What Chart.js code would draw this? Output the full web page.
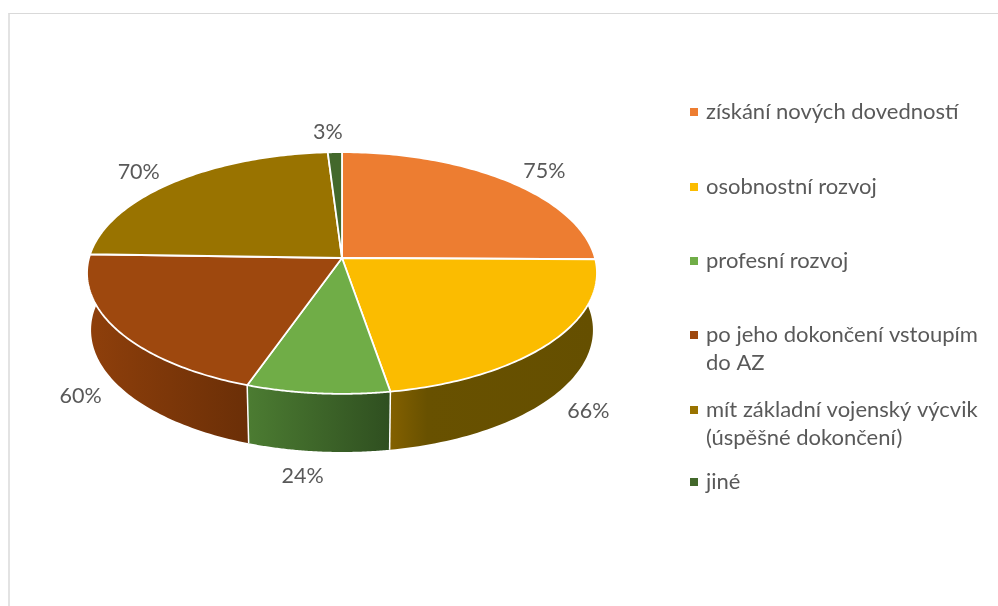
<!DOCTYPE html>
<html>
<head>
<meta charset="utf-8">
<script src="https://cdn.jsdelivr.net/npm/chart.js@4"></script>
<style>
html,body{margin:0;padding:0;background:#fff;overflow:hidden}
#frame{position:absolute;left:8px;top:13px;width:990px;height:593px;box-sizing:border-box;border-top:1px solid #d9d9d9;border-left:2px solid #e3e3e3}
#c{position:absolute;left:0;top:0}
</style>
</head>
<body>
<div id="frame"></div>
<canvas id="c" width="998" height="606"></canvas>
<script>
// Data
const categories = ['získání nových dovedností','osobnostní rozvoj','profesní rozvoj','po jeho dokončení vstoupím do AZ','mít základní vojenský výcvik (úspěšné dokončení)','jiné'];
const values = [75,66,24,60,70,3];
// Styles
const legendLines = [['získání nových dovedností'],['osobnostní rozvoj'],['profesní rozvoj'],['po jeho dokončení vstoupím','do AZ'],['mít základní vojenský výcvik','(úspěšné dokončení)'],['jiné']];
const colors = ['#ED7D31','#FBBC00','#70AD47','#9E480E','#997300','#43682B'];
const wallStops = [null,
  [[0,'#836000'],[0.18,'#685100'],[1,'#654F00']],
  [[0,'#4C7C32'],[1,'#2F4F20']],
  [[0,'#8E3F0B'],[1,'#6B2F07']],
  null,null];
const labelOffsets = [[37,-10],[37,69],[-15,83],[-37,66],[-36,-10],[-7,-20]];
const legendY = [112,187,261,335,410,482];
const legendX = 690, legendTextX = 706, legendLineGap = 28;
const labelFont = '21.5px Lato', legendFont = '22px Lato', textColor = '#595959';

// Perspective view of the pie's disc
const P = 0.124, YRATIO = 119/253;
const DEPTH = 57, BOTTOM_SCALE = 249/253, BOTTOM_YRATIO = 120/249;
function topPt(a,el){
  const R=el.outerRadius, u=Math.cos(a), v=Math.sin(a), w=1/(1-P*v);
  return [el.x+R*u*w, el.y+R*YRATIO*v*w];
}
function botPt(a,el){
  const R=el.outerRadius*BOTTOM_SCALE, u=Math.cos(a), v=Math.sin(a), w=1/(1-P*v);
  return [el.x+R*u*w, el.y+DEPTH+R*BOTTOM_YRATIO*v*w];
}
const STEPS=90;
const pie3d = {
  id:'pie3d',
  beforeDatasetDraw(chart){
    const ctx=chart.ctx, arcs=chart.getDatasetMeta(0).data;
    ctx.save();
    // walls
    arcs.forEach((el,i)=>{
      if(!wallStops[i]) return;
      let a0=el.startAngle, a1=el.endAngle;
      const rawStart=a0, rawEnd=a1;
      if(a0<0.22) a0=-0.5;      // carry round to the silhouette (hidden under the top face)
      if(a1>Math.PI-0.12) a1=Math.PI+0.5;
      const pts=[];
      for(let s=0;s<=STEPS;s++) pts.push(topPt(a0+(a1-a0)*s/STEPS,el));
      for(let s=STEPS;s>=0;s--) pts.push(botPt(a0+(a1-a0)*s/STEPS,el));
      const xa=topPt(rawStart,el)[0], xb=topPt(rawEnd,el)[0];
      const g=ctx.createLinearGradient(Math.min(xa,xb),0,Math.max(xa,xb),0);
      wallStops[i].forEach(([o,c])=>g.addColorStop(o,c));
      ctx.beginPath();
      pts.forEach((p,k)=>k?ctx.lineTo(p[0],p[1]):ctx.moveTo(p[0],p[1]));
      ctx.closePath();
      ctx.fillStyle=g; ctx.fill();
    });
    // wall seams
    ctx.strokeStyle='#fff'; ctx.lineWidth=1.5;
    arcs.forEach((el,i)=>{
      if(!wallStops[i]||!wallStops[i+1]) return;
      const t=topPt(el.endAngle,el), b=botPt(el.endAngle,el);
      ctx.beginPath(); ctx.moveTo(t[0],t[1]); ctx.lineTo(b[0],b[1]); ctx.stroke();
    });
    // top faces
    arcs.forEach((el)=>{
      ctx.beginPath();
      ctx.moveTo(el.x,el.y);
      const a0=el.startAngle,a1=el.endAngle;
      for(let s=0;s<=STEPS;s++){const p=topPt(a0+(a1-a0)*s/STEPS,el);ctx.lineTo(p[0],p[1]);}
      ctx.closePath();
      ctx.fillStyle=el.options.backgroundColor; ctx.fill();
      ctx.strokeStyle='#fff'; ctx.lineWidth=1.8; ctx.lineJoin='round'; ctx.stroke();
    });
    ctx.restore();
    return false;
  },
  afterDatasetsDraw(chart){
    const ctx=chart.ctx, arcs=chart.getDatasetMeta(0).data, vals=chart.data.datasets[0].data;
    ctx.save();
    ctx.fillStyle=textColor; ctx.textAlign='center'; ctx.textBaseline='middle'; ctx.font=labelFont;
    arcs.forEach((el,i)=>{
      const p=topPt((el.startAngle+el.endAngle)/2,el);
      ctx.fillText(vals[i]+'%',p[0]+labelOffsets[i][0],p[1]+labelOffsets[i][1]);
    });
    ctx.textAlign='left'; ctx.font=legendFont;
    legendLines.forEach((lines,i)=>{
      ctx.fillStyle=colors[i];
      ctx.fillRect(legendX,legendY[i]-4,8,8);
      ctx.fillStyle=textColor;
      lines.forEach((t,k)=>ctx.fillText(t,legendTextX,legendY[i]+k*legendLineGap));
    });
    ctx.restore();
  }
};
new Chart(document.getElementById('c'),{
  type:'pie',
  data:{labels:categories,datasets:[{data:values,backgroundColor:colors}]},
  options:{
    responsive:false,animation:false,
    radius:253,
    layout:{padding:{left:0,top:0,right:314,bottom:90}},
    plugins:{legend:{display:false},tooltip:{enabled:false}}
  },
  plugins:[pie3d]
});
</script>
</body>
</html>
